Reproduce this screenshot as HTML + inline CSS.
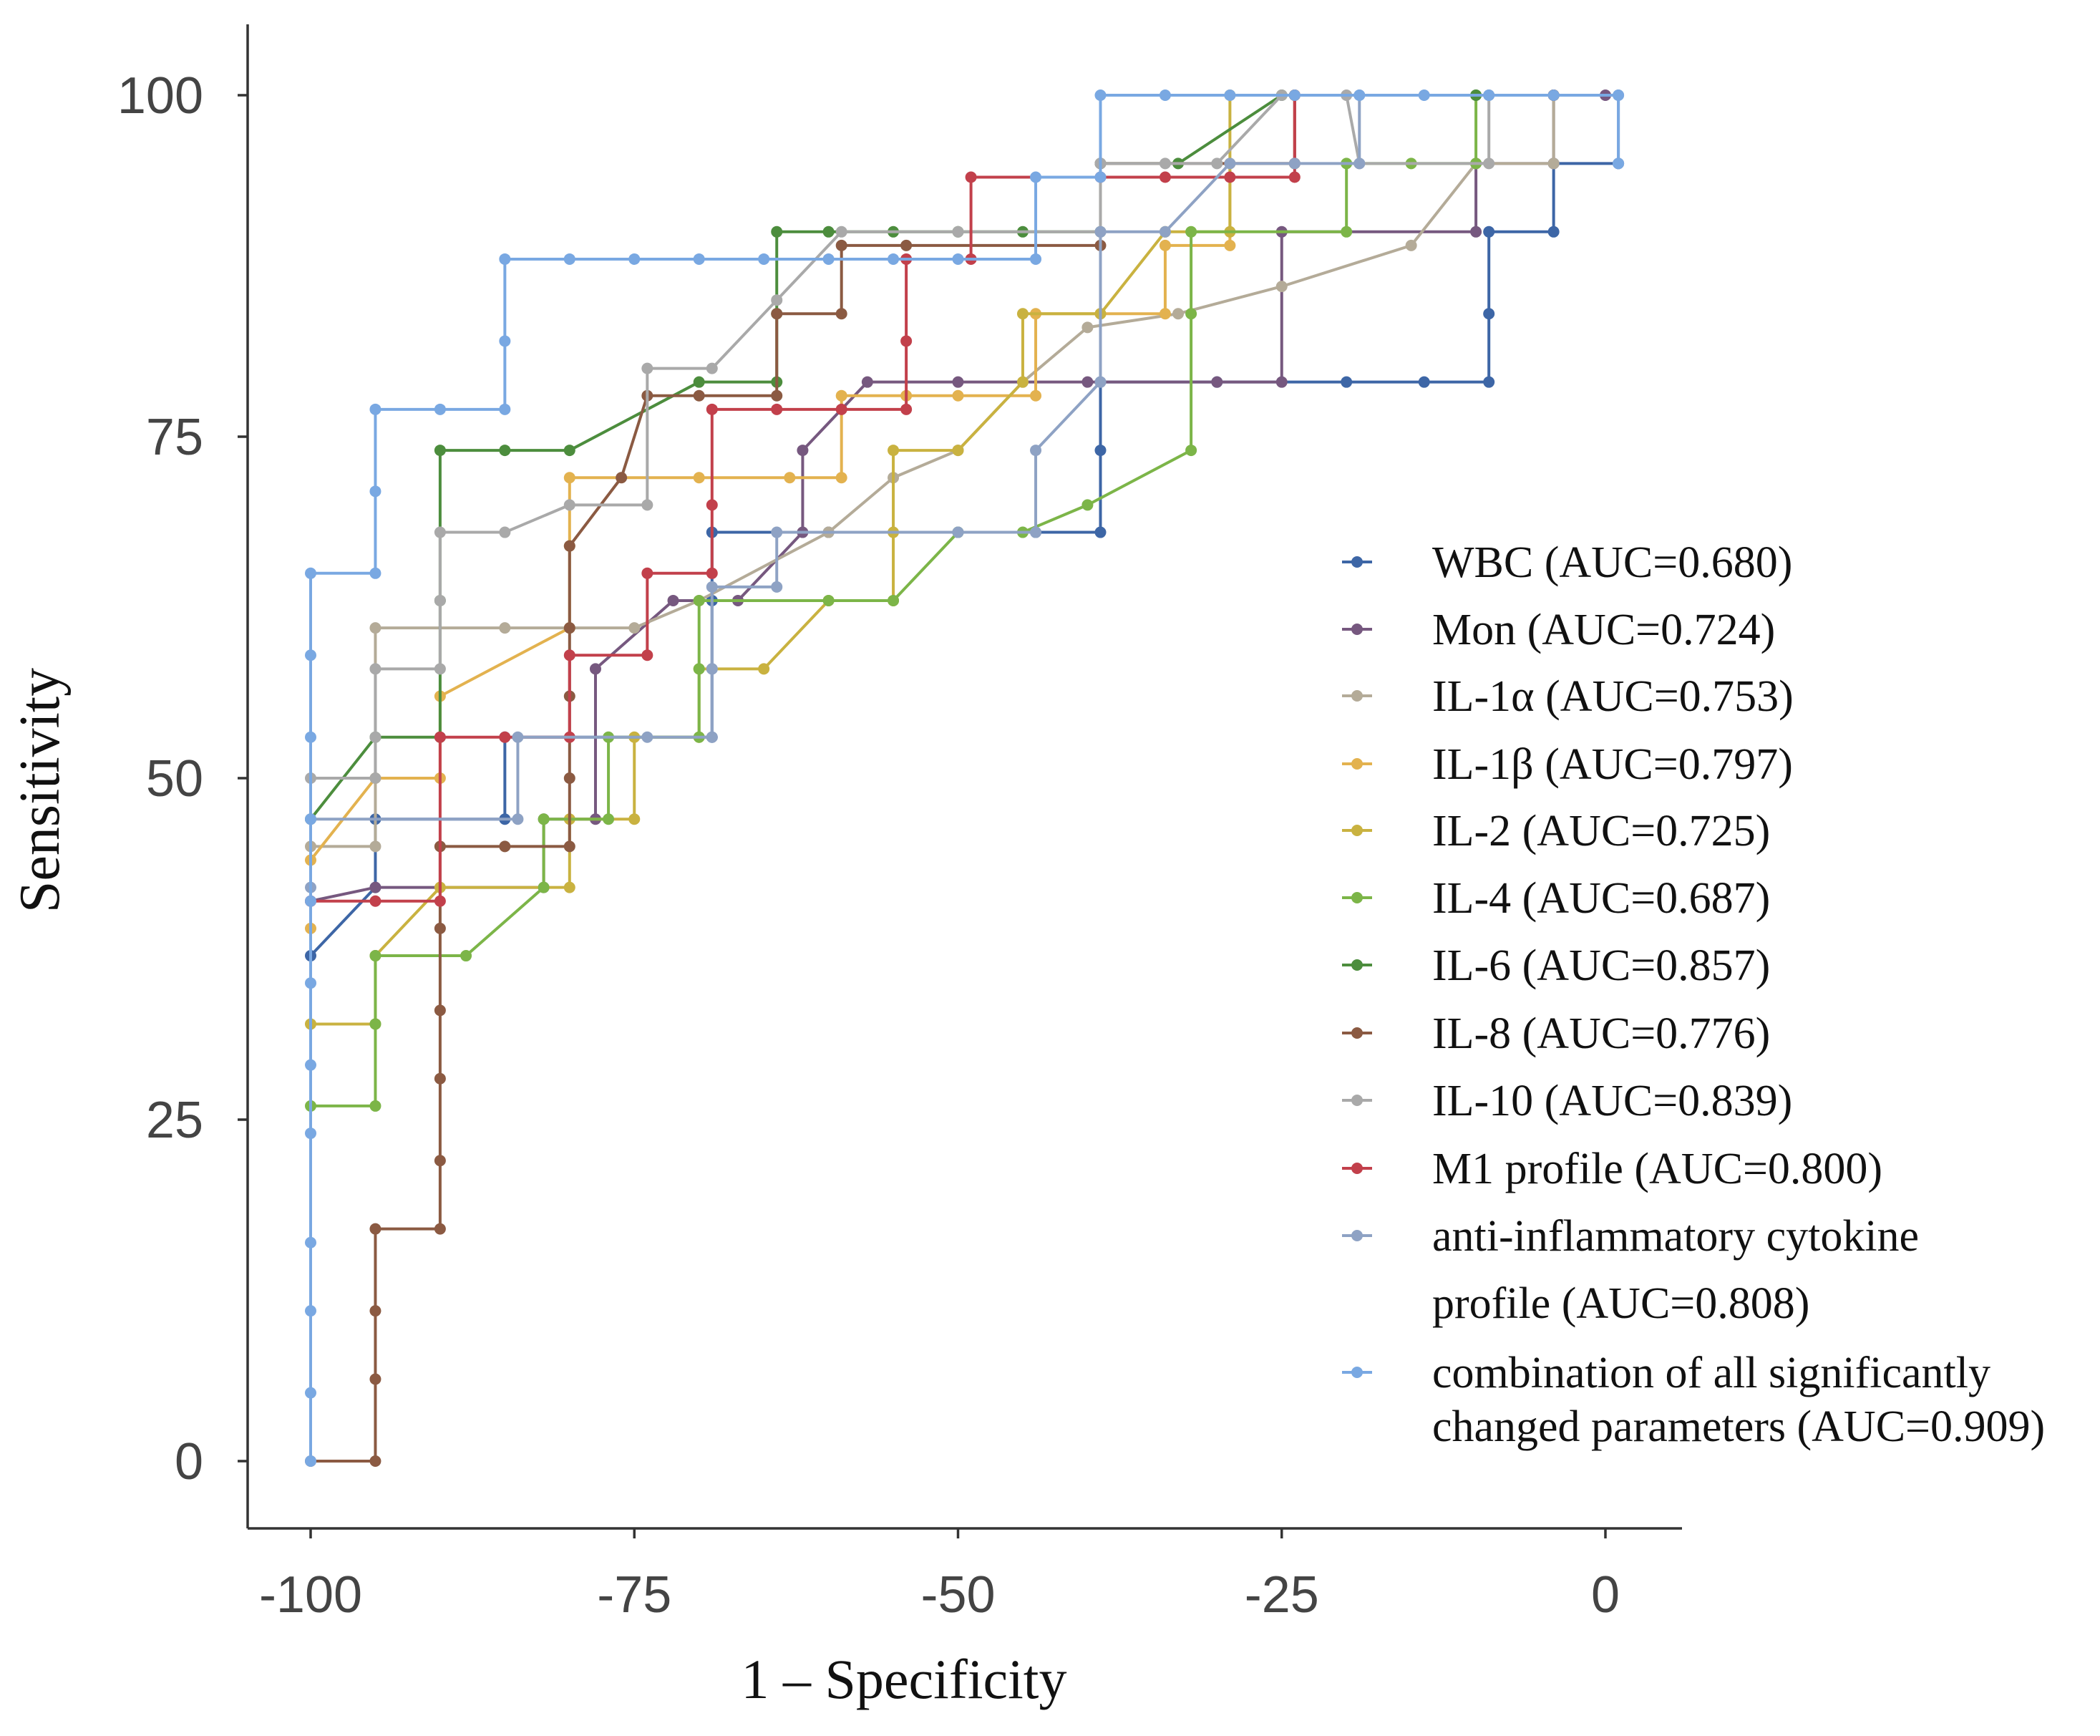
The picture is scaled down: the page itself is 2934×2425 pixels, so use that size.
<!DOCTYPE html>
<html><head><meta charset="utf-8"><style>
html,body{margin:0;padding:0;background:#fff;}
svg{display:block;}
</style></head><body>
<svg id="chart" width="2934" height="2425" viewBox="0 0 2934 2425" xmlns="http://www.w3.org/2000/svg">
<g id="axes"></g>
<g id="series"></g>
<g id="legend"></g>
</svg>
<script>
const xTicks=[-100,-75,-50,-25,0];
const yTicks=[0,25,50,75,100];
const seriesNames=["WBC","Mon","IL-1α","IL-1β","IL-2","IL-4","IL-6","IL-8","IL-10","M1 profile","anti-inflammatory cytokine profile","combination of all significantly changed parameters"];
const legendLabels=[["WBC (AUC=0.680)"],["Mon (AUC=0.724)"],["IL-1α (AUC=0.753)"],["IL-1β (AUC=0.797)"],["IL-2 (AUC=0.725)"],["IL-4 (AUC=0.687)"],["IL-6 (AUC=0.857)"],["IL-8 (AUC=0.776)"],["IL-10 (AUC=0.839)"],["M1 profile (AUC=0.800)"],["anti-inflammatory cytokine","profile (AUC=0.808)"],["combination of all significantly","changed parameters (AUC=0.909)"]];
const seriesColors=["#3d66a6","#76587f","#b4ab98","#e3b24f","#c9b240","#7cb548","#4c8d3d","#8b5a42","#a9a9a9","#c2404b","#8ea2c4","#79a8e2"];
const wbcX=[-100,-95,-95,-85,-85,-69,-69,-69,-69,-60,-50,-44,-39,-39,-39,-30,-20,-14,-9,-9,-9,-4,-4,1];
const wbcY=[37,42,47,47,53,53,58,63,68,68,68,68,68,74,79,79,79,79,79,84,90,90,95,95];
const monX=[-100,-95,-82,-82,-78,-78,-72,-67,-62,-62,-57,-50,-40,-30,-25,-25,-10,-10,-4,-4,0];
const monY=[41,42,42,47,47,58,63,63,68,74,79,79,79,79,79,90,90,95,95,100,100];
const il1aX=[-100,-95,-95,-85,-80,-75,-70,-60,-55,-50,-45,-40,-33,-25,-15,-10,-4,-4];
const il1aY=[45,45,61,61,61,61,63,68,72,74,79,83,84,86,89,95,95,100];
const il1bX=[-100,-100,-95,-90,-90,-80,-80,-80,-70,-63,-59,-59,-54,-50,-44,-44,-39,-34,-34,-29,-29,-24,-24,-4];
const il1bY=[39,44,50,50,56,61,67,72,72,72,72,78,78,78,78,84,84,84,89,89,95,95,100,100];
const il2X=[-100,-95,-95,-90,-80,-80,-75,-75,-70,-70,-65,-60,-55,-55,-55,-50,-45,-45,-39,-34,-29,-29,-24];
const il2Y=[32,32,37,42,42,47,47,53,53,58,58,63,63,68,74,74,79,84,84,90,90,100,100];
const il4X=[-100,-95,-95,-95,-88,-82,-82,-77,-77,-70,-70,-70,-60,-55,-50,-45,-40,-32,-32,-32,-20,-20,-15,-10,-10,-4];
const il4Y=[26,26,32,37,37,42,47,47,53,53,58,63,63,63,68,68,70,74,84,90,90,95,95,95,100,100];
const il6X=[-100,-95,-90,-90,-90,-85,-80,-70,-64,-64,-64,-60,-55,-50,-45,-39,-39,-33,-25,-10,-4];
const il6Y=[47,53,53,63,74,74,74,79,79,84,90,90,90,90,90,90,95,95,100,100,100];
const il8X=[-100,-95,-95,-95,-95,-90,-90,-90,-90,-90,-90,-85,-80,-80,-80,-80,-80,-76,-74,-70,-64,-64,-59,-59,-54,-39,-39,-24,-24,-4];
const il8Y=[0,0,6,11,17,17,22,28,33,39,45,45,45,50,56,61,67,72,78,78,78,84,84,89,89,89,95,95,100,100];
const il10X=[-100,-95,-95,-95,-90,-90,-90,-85,-80,-74,-74,-69,-64,-59,-50,-39,-39,-34,-30,-25,-20,-19,-9,-9];
const il10Y=[50,50,53,58,58,63,68,68,70,70,80,80,85,90,90,90,95,95,95,100,100,95,95,100];
const m1X=[-100,-95,-90,-90,-85,-80,-80,-74,-74,-69,-69,-69,-64,-59,-54,-54,-54,-49,-49,-39,-34,-29,-24,-24,-4];
const m1Y=[41,41,41,53,53,53,59,59,65,65,70,77,77,77,77,82,88,88,94,94,94,94,94,100,100];
const antiX=[-100,-100,-84,-84,-74,-69,-69,-69,-64,-64,-50,-44,-44,-39,-39,-34,-29,-24,-19,-19,-9,1,1];
const antiY=[42,47,47,53,53,53,58,64,64,68,68,68,74,79,90,90,95,95,95,100,100,100,95];
const combX=[-100,-100,-100,-100,-100,-100,-100,-100,-100,-100,-100,-100,-95,-95,-95,-90,-85,-85,-85,-80,-75,-70,-65,-60,-55,-50,-44,-44,-39,-39,-34,-29,-24,-19,-14,-9,-4,1,1];
const combY=[0,5,11,16,24,29,35,41,47,53,59,65,65,71,77,77,77,82,88,88,88,88,88,88,88,88,88,94,94,100,100,100,100,100,100,100,100,100,95];
const allX=[wbcX,monX,il1aX,il1bX,il2X,il4X,il6X,il8X,il10X,m1X,antiX,combX];
const allY=[wbcY,monY,il1aY,il1bY,il2Y,il4Y,il6Y,il8Y,il10Y,m1Y,antiY,combY];

const NS="http://www.w3.org/2000/svg";
const X0=434,X1=2243,Y0=2041,Y1=133;
function sx(v){return X0+(v+100)/100*(X1-X0);}
function sy(v){return Y0-(v/100)*(Y0-Y1);}
function mk(tag,attrs,parent){const e=document.createElementNS(NS,tag);for(const k in attrs)e.setAttribute(k,attrs[k]);parent.appendChild(e);return e;}

const axes=document.getElementById('axes');
let e=mk('line',{x1:346,y1:34,x2:346,y2:2135,stroke:'#333','stroke-width':3.5},axes);


e=mk('line',{x1:346,y1:2135,x2:2350,y2:2135,stroke:'#333','stroke-width':3.5},axes);


yTicks.forEach(t=>{
  const y=sy(t);
  let l=mk('line',{x1:332,y1:y,x2:346,y2:y,stroke:'#333','stroke-width':3.5},axes);
  
  
  let tx=mk('text',{x:284,y:y+25,'text-anchor':'end','font-family':'Liberation Sans, sans-serif','font-size':72,fill:'#444'},axes);
  tx.textContent=t;
  
  
});
xTicks.forEach(t=>{
  const x=sx(t);
  let l=mk('line',{x1:x,y1:2135,x2:x,y2:2149,stroke:'#333','stroke-width':3.5},axes);
  
  
  let tx=mk('text',{x:x,y:2252,'text-anchor':'middle','font-family':'Liberation Sans, sans-serif','font-size':72,fill:'#444'},axes);
  tx.textContent=t;
  
  
});
e=mk('text',{x:1263,y:2372,'text-anchor':'middle','font-family':'Liberation Serif, serif','font-size':78,fill:'#111'},axes);
e.textContent='1 – Specificity';


e=mk('text',{x:0,y:0,'text-anchor':'middle','font-family':'Liberation Serif, serif','font-size':80,fill:'#111',transform:'translate(82,1104) rotate(-90)'},axes);
e.textContent='Sensitivity';



const sg=document.getElementById('series');
allX.forEach((xs,i)=>{
  const ys=allY[i];
  const g=mk('g',{},sg);
  
  
  const pts=xs.map((x,j)=>sx(x)+','+sy(ys[j])).join(' ');
  const pl=mk('polyline',{points:pts,fill:'none',stroke:seriesColors[i],'stroke-width':4,'stroke-linejoin':'round'},g);
  
  
  xs.forEach((x,j)=>{
    const c=mk('circle',{cx:sx(x),cy:sy(ys[j]),r:8,fill:seriesColors[i]},g);
    
    
  });
});

const lg=document.getElementById('legend');
const rowY=[785,879,972,1067,1160,1254,1348,1443,1537,1632,1726,1917];
legendLabels.forEach((lines,i)=>{
  const g=mk('g',{},lg);
  
  
  const y=rowY[i];
  let l=mk('line',{x1:1875,y1:y,x2:1917,y2:y,stroke:seriesColors[i],'stroke-width':4},g);
  
  
  let c=mk('circle',{cx:1896,cy:y,r:8,fill:seriesColors[i]},g);
  
  
  lines.forEach((s,k)=>{
    const dy=(i===11)?k*75:k*94;
    const t=mk('text',{x:2001,y:y+21+dy,'font-family':'Liberation Serif, serif','font-size':62,fill:'#111'},g);
    t.textContent=s;
    
    
  });
});
</script>
</body></html>
